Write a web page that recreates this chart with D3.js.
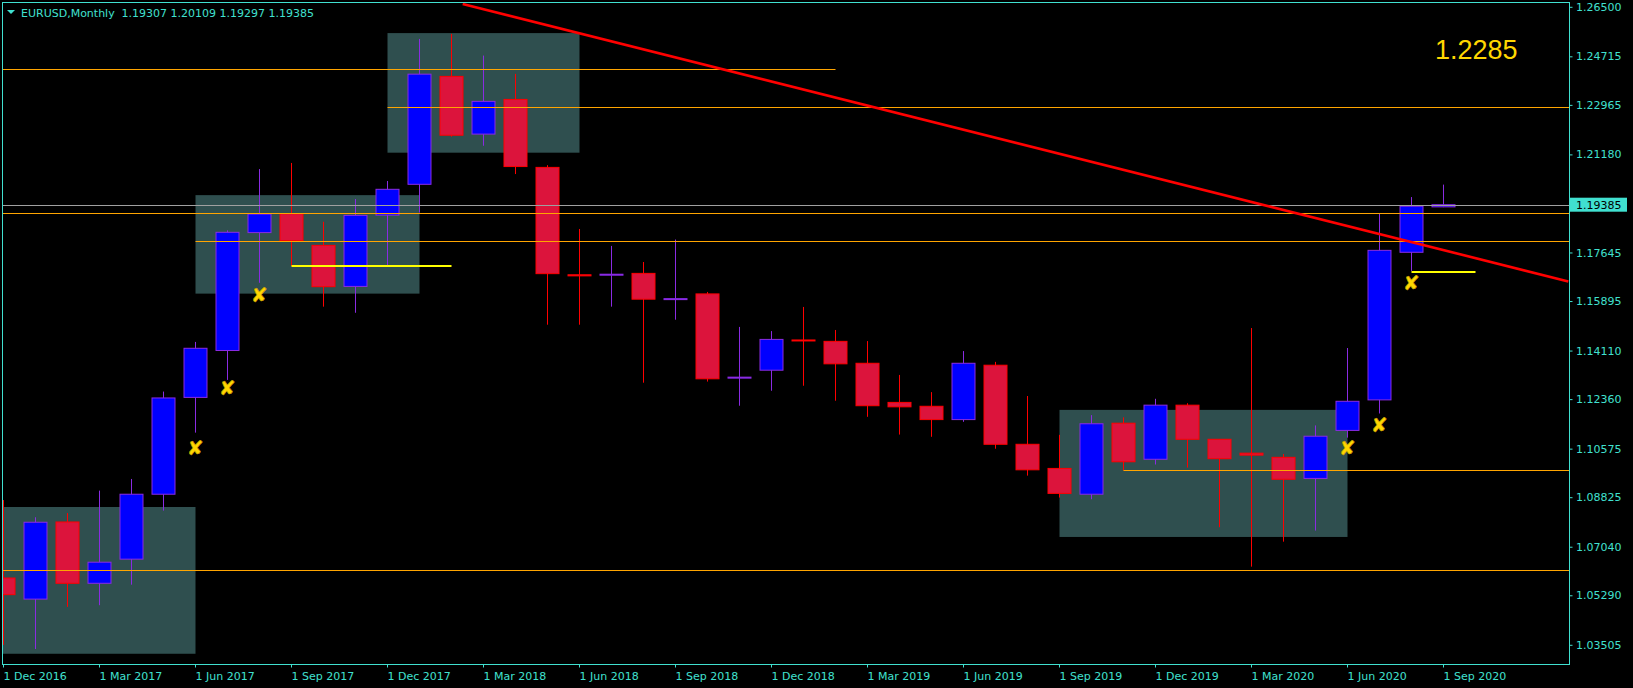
<!DOCTYPE html>
<html><head><meta charset="utf-8">
<script src="https://cdn.jsdelivr.net/npm/d3@7"></script>
<style>html,body{margin:0;padding:0;background:#000;overflow:hidden}svg{display:block}</style>
</head><body>
<svg id="c" width="1633" height="688"></svg>
<script>
// ---------- DATA ----------
const months = ["Dec 2016","Jan 2017","Feb 2017","Mar 2017","Apr 2017","May 2017","Jun 2017","Jul 2017","Aug 2017","Sep 2017","Oct 2017","Nov 2017",
  "Dec 2017","Jan 2018","Feb 2018","Mar 2018","Apr 2018","May 2018","Jun 2018","Jul 2018","Aug 2018","Sep 2018","Oct 2018","Nov 2018",
  "Dec 2018","Jan 2019","Feb 2019","Mar 2019","Apr 2019","May 2019","Jun 2019","Jul 2019","Aug 2019","Sep 2019","Oct 2019","Nov 2019",
  "Dec 2019","Jan 2020","Feb 2020","Mar 2020","Apr 2020","May 2020","Jun 2020","Jul 2020","Aug 2020","Sep 2020"];
const openP  = [1.0593,1.0517,1.0795,1.0574,1.0661,1.0895,1.1244,1.1413,1.1838,1.1906,1.1792,1.1644,
  1.1901,1.2012,1.2401,1.2193,1.2318,1.2073,1.1686,1.1685,1.1691,1.1597,1.1617,1.1314,
  1.1342,1.1451,1.1446,1.1367,1.1226,1.1212,1.1164,1.1360,1.1075,1.0988,1.0895,1.1151,
  1.1021,1.1216,1.1093,1.1043,1.1028,1.0952,1.1125,1.1235,1.1767,1.19307];
const highP  = [1.0874,1.0812,1.0827,1.0908,1.0950,1.1265,1.1444,1.1846,1.2067,1.2089,1.1877,1.1959,
  1.2024,1.2536,1.2554,1.2476,1.2410,1.2081,1.1851,1.1790,1.1732,1.1813,1.1624,1.1498,
  1.1483,1.1570,1.1487,1.1447,1.1325,1.1263,1.1411,1.1372,1.1249,1.1109,1.1180,1.1172,
  1.1239,1.1223,1.1093,1.1494,1.1040,1.1143,1.1422,1.1905,1.1966,1.20109];
const lowP   = [1.0352,1.0337,1.0489,1.0495,1.0569,1.0836,1.1117,1.1307,1.1657,1.1718,1.1571,1.1549,
  1.1721,1.1910,1.2184,1.2151,1.2049,1.1506,1.1506,1.1571,1.1297,1.1524,1.1301,1.1214,
  1.1268,1.1286,1.1232,1.1174,1.1110,1.1102,1.1156,1.1059,1.0962,1.0883,1.0877,1.0981,
  1.1002,1.0991,1.0776,1.0634,1.0724,1.0764,1.1099,1.1186,1.1700,1.19297];
const closeP = [1.0533,1.0794,1.0574,1.0650,1.0895,1.1242,1.1421,1.1839,1.1905,1.1809,1.1643,1.1900,
  1.1994,1.2409,1.2189,1.2311,1.2076,1.1690,1.1682,1.1688,1.1598,1.1600,1.1311,1.1317,
  1.1453,1.1449,1.1365,1.1214,1.1210,1.1164,1.1367,1.1075,1.0983,1.0898,1.1149,1.1012,
  1.1216,1.1093,1.1023,1.1036,1.0949,1.1104,1.1230,1.1774,1.1933,1.19385];

const xTickIdx = [0,3,6,9,12,15,18,21,24,27,30,33,36,39,42,45];
const xTickLabels = ["1 Dec 2016","1 Mar 2017","1 Jun 2017","1 Sep 2017","1 Dec 2017","1 Mar 2018","1 Jun 2018","1 Sep 2018",
  "1 Dec 2018","1 Mar 2019","1 Jun 2019","1 Sep 2019","1 Dec 2019","1 Mar 2020","1 Jun 2020","1 Sep 2020"];
const yTicks = [1.26500,1.24715,1.22965,1.21180,1.17645,1.15895,1.14110,1.12360,1.10575,1.08825,1.07040,1.05290,1.03505];

// rectangles (month index start/end, price top/bottom)
const boxStart  = [-2, 6, 12, 33];
const boxEnd    = [6, 13, 18, 42];
const boxTop    = [1.0849, 1.1973, 1.2557, 1.1199];
const boxBottom = [1.0320, 1.1618, 1.2126, 1.0741];

// orange horizontal levels (null = chart edge)
const levelPrice = [1.2429, 1.2290, 1.1908, 1.1807, 1.0981, 1.0621];
const levelStart = [null, 12, null, 6, 35, null];
const levelEnd   = [26, null, null, null, null, null];

// yellow short lines
const yLinePrice = [1.1718, 1.1696];
const yLineStart = [9, 44];
const yLineEnd   = [14, 46];

// fractal-like cross marks
const markIdx   = [6, 7, 8, 42, 43, 44];
const markPrice = [1.1061, 1.1277, 1.1612, 1.1063, 1.1145, 1.1655];

// trend line anchors
const trendIdx   = [14.35, 48.9];
const trendPrice = [1.2662, 1.1662];

const bidPrice = 1.19385;
const titleSymbol = "EURUSD,Monthly";
const titleOHLC = [1.19307, 1.20109, 1.19297, 1.19385];
const noteText = "1.2285";

// ---------- LAYOUT ----------
const W = 1633, H = 688;
const L = 2.5, R = 1569.5, T = 2.5, B = 664.5;
const fg = "#40E0D0";
const font = "DejaVu Sans";

const x = d3.scaleLinear().domain([0, 45]).range([3.5, 1443.5]);
const y = d3.scaleLinear().domain([1.03505, 1.265]).range([645.3, 7.3]);

const svg = d3.select("#c");
svg.append("rect").attr("width", W).attr("height", H).attr("fill", "#000");

svg.append("defs").append("clipPath").attr("id", "plot")
  .append("rect").attr("x", L).attr("y", T).attr("width", R - L).attr("height", B - T);

const plot = svg.append("g").attr("clip-path", "url(#plot)");

// boxes
plot.selectAll("rect.box").data(boxStart.map((s, i) => i)).join("rect")
  .attr("class", "box")
  .attr("x", i => x(boxStart[i]))
  .attr("y", i => y(boxTop[i]))
  .attr("width", i => x(boxEnd[i]) - x(boxStart[i]))
  .attr("height", i => y(boxBottom[i]) - y(boxTop[i]))
  .attr("fill", "#2F4F4F");

// candles
const candles = months.map((m, i) => ({ i, o: openP[i], h: highP[i], l: lowP[i], c: closeP[i] }));
const bullBody = "#0000FF", bullEdge = "#8A2BE2", bearBody = "#DC143C", bearEdge = "#FF0000";
const cg = plot.append("g");
cg.selectAll("line.wick").data(candles).join("line")
  .attr("x1", d => x(d.i)).attr("x2", d => x(d.i))
  .attr("y1", d => y(d.h)).attr("y2", d => y(d.l))
  .attr("stroke", d => d.c >= d.o ? bullEdge : bearEdge).attr("stroke-width", 1);
cg.selectAll("rect.body").data(candles).join("rect")
  .attr("x", d => x(d.i) - 11.5)
  .attr("width", 23)
  .attr("y", d => Math.min(y(d.o), y(d.c)))
  .attr("height", d => Math.max(1, Math.abs(y(d.o) - y(d.c))))
  .attr("fill", d => d.c >= d.o ? bullBody : bearBody)
  .attr("stroke", d => d.c >= d.o ? bullEdge : bearEdge).attr("stroke-width", 1);

// orange levels
plot.selectAll("line.lvl").data(levelPrice.map((p, i) => i)).join("line")
  .attr("x1", i => levelStart[i] === null ? L : x(levelStart[i]))
  .attr("x2", i => levelEnd[i] === null ? R : x(levelEnd[i]))
  .attr("y1", i => Math.round(y(levelPrice[i])) + 0.5)
  .attr("y2", i => Math.round(y(levelPrice[i])) + 0.5)
  .attr("stroke", "#FFA500").attr("stroke-width", 1);

// bid line
plot.append("line")
  .attr("x1", L).attr("x2", R)
  .attr("y1", Math.round(y(bidPrice)) + 0.5).attr("y2", Math.round(y(bidPrice)) + 0.5)
  .attr("stroke", "#A0A0A0").attr("stroke-width", 1);

// yellow lines
plot.selectAll("line.yl").data(yLinePrice.map((p, i) => i)).join("line")
  .attr("x1", i => x(yLineStart[i])).attr("x2", i => x(yLineEnd[i]))
  .attr("y1", i => y(yLinePrice[i])).attr("y2", i => y(yLinePrice[i]))
  .attr("stroke", "#FFFF00").attr("stroke-width", 2);

// trend line
plot.append("line")
  .attr("x1", x(trendIdx[0])).attr("y1", y(trendPrice[0]))
  .attr("x2", x(trendIdx[1])).attr("y2", y(trendPrice[1]))
  .attr("stroke", "#FF0000").attr("stroke-width", 2.6);

// cross marks
plot.selectAll("text.mark").data(markIdx.map((m, i) => i)).join("text")
  .attr("x", i => x(markIdx[i])).attr("y", i => y(markPrice[i]))
  .attr("text-anchor", "middle").attr("dominant-baseline", "central")
  .attr("font-family", font).attr("font-size", 20).attr("font-weight", "bold")
  .attr("fill", "#FFD700").attr("stroke", "#C8A000").attr("stroke-width", 0.6)
  .text("\u2718");

// note text
svg.append("text").attr("x", 1435).attr("y", 59)
  .attr("font-family", "Liberation Sans").attr("font-size", 27)
  .attr("fill", "#FFD700").text(noteText);

// axes
const xAxis = d3.axisBottom(x).tickValues(xTickIdx).tickFormat((d, i) => xTickLabels[i]).tickSize(3).offset(0);
const gx = svg.append("g").attr("transform", `translate(0,${B})`).call(xAxis);
gx.select(".domain").remove();
gx.selectAll("line").attr("stroke", fg);
gx.selectAll("text").attr("text-anchor", "start").attr("y", 8).attr("fill", fg)
  .attr("font-family", font).attr("font-size", 11);

const yAxis = d3.axisRight(y).tickValues(yTicks).tickFormat(d3.format(".5f")).tickSize(3).offset(0);
const gy = svg.append("g").attr("transform", `translate(${R},0)`).call(yAxis);
gy.select(".domain").remove();
gy.selectAll("line").attr("stroke", fg);
gy.selectAll("text").attr("fill", fg).attr("font-family", font).attr("font-size", 11).attr("x", 6.5);

// frame
svg.append("rect").attr("x", L).attr("y", T).attr("width", R - L).attr("height", B - T)
  .attr("fill", "none").attr("stroke", fg).attr("stroke-width", 1);

// bid label
const by = y(bidPrice);
svg.append("rect").attr("x", R + 0.5).attr("y", by - 7).attr("width", 57).attr("height", 14).attr("fill", fg);
svg.append("text").attr("x", R + 6.5).attr("y", by).attr("dy", "0.35em")
  .attr("font-family", font).attr("font-size", 11).attr("fill", "#000").text(d3.format(".5f")(bidPrice));

// title
svg.append("path").attr("d", "M7,10 L15,10 L11,14 Z").attr("fill", fg);
svg.append("text").attr("x", 21).attr("y", 17).attr("font-family", font).attr("font-size", 11)
  .attr("fill", fg).text(titleSymbol);
svg.append("text").attr("x", 121.5).attr("y", 17).attr("font-family", font).attr("font-size", 11)
  .attr("fill", fg).text(titleOHLC.map(d3.format(".5f")).join(" "));
</script>
</body></html>
